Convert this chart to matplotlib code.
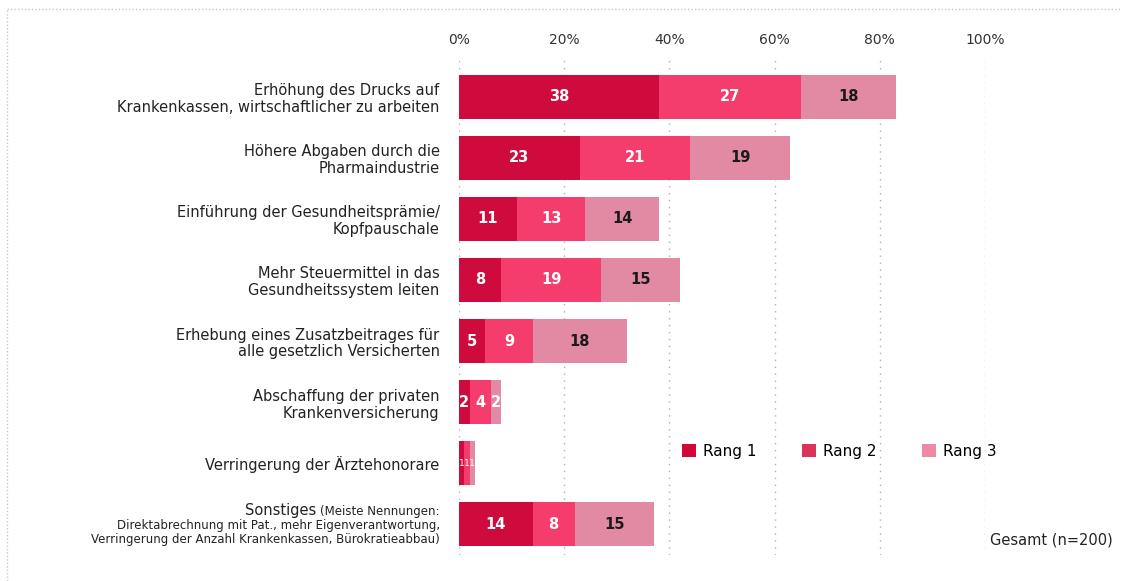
import matplotlib.pyplot as plt
import numpy as np
from matplotlib.patches import Patch
from matplotlib.lines import Line2D

# Daten
categories = [
    'Erhöhung des Drucks auf\nKrankenkassen, wirtschaftlicher zu arbeiten',
    'Höhere Abgaben durch die\nPharmaindustrie',
    'Einführung der Gesundheitsprämie/\nKopfpauschale',
    'Mehr Steuermittel in das\nGesundheitssystem leiten',
    'Erhebung eines Zusatzbeitrages für\nalle gesetzlich Versicherten',
    'Abschaffung der privaten\nKrankenversicherung',
    'Verringerung der Ärztehonorare',
    '',  # Sonstiges wird separat beschriftet
]
sonstiges_title = 'Sonstiges'
sonstiges_lines = [
    '(Meiste Nennungen:',
    'Direktabrechnung mit Pat., mehr Eigenverantwortung,',
    'Verringerung der Anzahl Krankenkassen, Bürokratieabbau)',
]
rang1 = [38, 23, 11, 8, 5, 2, 1, 14]
rang2 = [27, 21, 13, 19, 9, 4, 1, 8]
rang3 = [18, 19, 14, 15, 18, 2, 1, 15]
series_names = ['Rang 1', 'Rang 2', 'Rang 3']
xticks = [0, 20, 40, 60, 80, 100]
note = 'Gesamt (n=200)'

bar_colors = ['#cf0a3c', '#f43d6c', '#e28aa3']
legend_colors = ['#d20637', '#dc3358', '#ee88a5']

W, H = 1122, 581
fig = plt.figure(figsize=(W / 100, H / 100), dpi=100)
ax = fig.add_axes([459 / W, 1 - 555 / H, (985 - 459) / W, (555 - 60) / H])

y = np.arange(len(categories))
left = np.zeros(len(categories))
for k, vals in enumerate([rang1, rang2, rang3]):
    vals = np.array(vals, dtype=float)
    ax.barh(y, vals, left=left, height=0.72, color=bar_colors[k], zorder=2)
    for i, v in enumerate(vals):
        col = '#1a1a1a' if (k == 2 and v >= 5) else 'white'
        if v < 2:
            fs, fw = 6.5, 'normal'
        else:
            fs, fw = 10.5, 'bold'
        ax.text(left[i] + v / 2, i, f'{int(v)}', ha='center', va='center',
                color=col, fontsize=fs, fontweight=fw, zorder=3)
    left += vals

ax.set_xlim(0, 100)
ax.set_ylim(len(categories) - 0.5, -0.6)
ax.set_xticks(xticks)
ax.set_xticklabels([f'{t}%' for t in xticks], fontsize=10, color='#333333')
ax.xaxis.tick_top()
ax.tick_params(axis='x', length=0, pad=9)
ax.set_yticks(y)
ax.set_yticklabels(categories, fontsize=10.5, color='#222222', linespacing=1.15)
ax.tick_params(axis='y', length=0, pad=14)
ax.grid(axis='x', linestyle=(0, (1, 4)), color='#b0b0b0', linewidth=1)
ax.set_axisbelow(True)
for s in ax.spines.values():
    s.set_visible(False)

# Sonstiges-Beschriftung
x_right = 440
base_y = [515, 529, 543]
texts = []
for line, by in zip(sonstiges_lines, base_y):
    t = fig.text(x_right / W, 1 - by / H, line, ha='right', va='baseline',
                 fontsize=8.5, color='#222222')
    texts.append(t)
fig.canvas.draw()
bb = texts[0].get_window_extent(fig.canvas.get_renderer())
fig.text((bb.x0 - 4) / W, 1 - base_y[0] / H, sonstiges_title, ha='right',
         va='baseline', fontsize=10.5, color='#222222')

# Legende
handles = [Patch(facecolor=c, edgecolor='none') for c in legend_colors]
ax.legend(handles, series_names, loc='center left', bbox_to_anchor=(0.424, 0.21),
          ncol=3, frameon=False, fontsize=11, handlelength=0.9, handleheight=0.9,
          handletextpad=0.45, columnspacing=3.0, borderpad=0, borderaxespad=0)

fig.text(990 / W, 1 - 540 / H, note, va='center', fontsize=10.5, color='#222222')

# gepunkteter Rahmen oben und links
fig.add_artist(Line2D([7 / W, 1], [1 - 9 / H, 1 - 9 / H], transform=fig.transFigure,
                      linestyle=(0, (1, 1.5)), color='#c8c8c8', linewidth=1))
fig.add_artist(Line2D([7 / W, 7 / W], [0, 1 - 9 / H], transform=fig.transFigure,
                      linestyle=(0, (1, 1.5)), color='#c8c8c8', linewidth=1))

fig.savefig('out.png', dpi=100, facecolor='white')
